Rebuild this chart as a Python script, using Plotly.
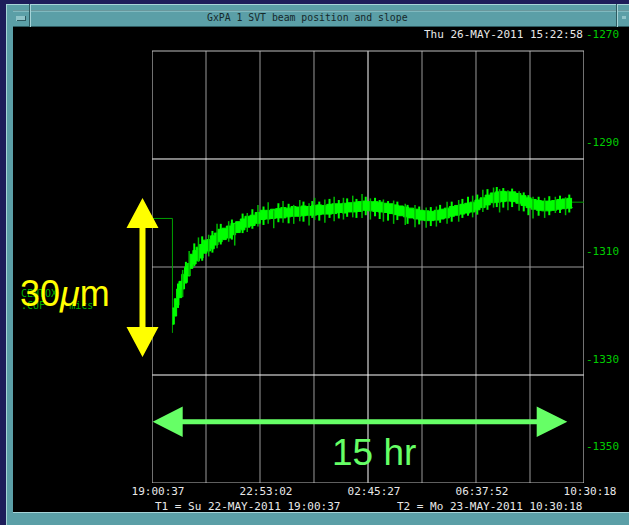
import plotly.graph_objects as go
import pandas as pd

# ---------------- data ----------------
T1 = "2011-05-22 19:00:37"
T2 = "2011-05-23 10:30:18"
title_text = "GxPA 1 SVT beam position and slope"
now_text = "Thu 26-MAY-2011 15:22:58"
t1_label = "T1 = Su 22-MAY-2011 19:00:37"
t2_label = "T2 = Mo 23-MAY-2011 10:30:18"
x_tick_labels = ["19:00:37", "22:53:02", "02:45:27", "06:37:52", "10:30:18"]
y_tick_labels = ["-1270", "-1290", "-1310", "-1330", "-1350"]
y_tick_values = [-1270, -1290, -1310, -1330, -1345.95]

# minutes after T1, with the upper / lower edge of the dense signal band
minutes = [44, 48, 53, 58, 64, 70, 76, 82, 88, 95, 102, 110, 118, 126, 134, 142, 151, 160,
           170, 180, 190, 200, 211, 222, 233, 244, 255, 266, 277, 288, 299, 310, 321, 332,
           343, 354, 365, 376, 387, 398, 409, 420, 431, 442, 453, 464, 475, 486, 497, 508,
           519, 530, 541, 552, 563, 574, 585, 596, 607, 618, 629, 640, 651, 662, 673, 684,
           695, 706, 717, 728, 739, 750, 761, 772, 783, 794, 805, 816, 827, 838, 849, 860,
           871, 882, 893, 904]
band_hi = [-1320.5, -1318.8, -1317.0, -1315.6, -1314.3, -1313.0, -1312.3, -1310.6, -1309.9,
           -1309.3, -1308.8, -1308.0, -1307.9, -1307.2, -1306.7, -1306.0, -1305.8, -1305.4,
           -1304.9, -1304.6, -1304.1, -1303.6, -1303.4, -1302.9, -1302.5, -1302.5, -1302.3,
           -1302.2, -1302.0, -1302.1, -1301.8, -1301.9, -1301.7, -1301.8, -1301.6, -1301.5,
           -1301.6, -1301.4, -1301.3, -1301.3, -1301.2, -1301.1, -1301.0, -1300.9, -1300.8,
           -1300.9, -1300.9, -1301.0, -1301.2, -1301.3, -1301.5, -1301.7, -1301.9, -1302.1,
           -1302.3, -1302.5, -1302.6, -1302.7, -1302.5, -1302.3, -1302.1, -1301.8, -1301.6,
           -1301.4, -1301.2, -1301.0, -1300.6, -1300.2, -1299.7, -1299.3, -1299.1, -1299.0,
           -1299.1, -1299.1, -1299.4, -1299.8, -1300.2, -1300.5, -1300.7, -1300.8, -1300.8,
           -1300.7, -1300.5, -1300.4, -1300.3, -1300.3]
band_lo = [-1323.5, -1322.0, -1320.0, -1318.6, -1317.0, -1315.8, -1314.6, -1313.2, -1312.4,
           -1311.8, -1311.3, -1310.4, -1310.0, -1309.6, -1308.9, -1308.3, -1307.9, -1307.6,
           -1307.0, -1306.6, -1306.1, -1305.6, -1305.3, -1304.9, -1304.2, -1304.1, -1304.0,
           -1303.9, -1303.9, -1303.7, -1303.6, -1303.6, -1303.5, -1303.4, -1303.4, -1303.3,
           -1303.2, -1303.2, -1303.1, -1302.9, -1303.0, -1302.8, -1302.8, -1302.7, -1302.5,
           -1302.6, -1302.7, -1302.8, -1302.9, -1303.1, -1303.3, -1303.5, -1303.7, -1303.9,
           -1304.1, -1304.3, -1304.4, -1304.4, -1304.3, -1304.1, -1303.9, -1303.6, -1303.4,
           -1303.2, -1303.0, -1302.8, -1302.4, -1302.0, -1301.5, -1301.1, -1301.0, -1300.9,
           -1300.8, -1300.9, -1301.2, -1301.6, -1302.0, -1302.3, -1302.5, -1302.6, -1302.6,
           -1302.5, -1302.3, -1302.2, -1302.1, -1301.9]

# isolated dark spikes (minutes after T1, low and high value)
spike_min = [66, 80, 100, 122, 140, 165, 178, 205, 228, 250, 262, 282, 305, 318, 338, 350,
             372, 392, 412, 432, 452, 470, 498, 520, 545, 566, 590, 612, 635, 660, 690, 712,
             735, 748, 766, 790, 820, 845, 868, 890]
spike_lo = [-1318.5, -1314.5, -1312.0, -1311.0, -1309.5, -1308.3, -1309.0, -1306.5, -1305.5,
            -1305.0, -1305.8, -1304.8, -1305.0, -1304.5, -1305.3, -1304.3, -1304.8, -1304.5,
            -1304.2, -1303.8, -1303.9, -1304.2, -1304.6, -1305.0, -1305.2, -1305.6, -1305.7,
            -1305.5, -1305.0, -1304.6, -1303.8, -1302.8, -1302.0, -1302.9, -1302.5, -1302.6,
            -1304.0, -1303.9, -1303.0, -1303.4]
spike_hi = [-1313.5, -1310.0, -1307.5, -1307.0, -1305.0, -1304.5, -1305.0, -1303.0, -1301.5,
            -1301.0, -1302.5, -1300.8, -1301.5, -1300.6, -1301.2, -1300.2, -1300.5, -1300.0,
            -1300.2, -1299.8, -1299.5, -1300.3, -1300.5, -1300.7, -1301.3, -1301.5, -1302.0,
            -1301.8, -1300.9, -1300.6, -1299.8, -1298.7, -1298.3, -1298.6, -1298.8, -1299.0,
            -1300.0, -1300.2, -1300.0, -1300.1]

# bright short spikes
flick_min = [56, 73, 91, 108, 130, 148, 172, 195, 216, 240, 272, 294, 326, 345, 360, 382, 402,
             420, 440, 460, 480, 490, 508, 528, 550, 575, 600, 620, 645, 668, 680, 700, 722,
             742, 756, 775, 800, 810, 832, 855, 878, 898]
flick_lo = [-1320.5, -1316.0, -1312.8, -1311.8, -1310.3, -1308.8, -1307.9, -1306.7, -1305.9,
            -1305.2, -1304.7, -1304.9, -1304.6, -1303.9, -1304.4, -1303.9, -1304.0, -1303.7,
            -1303.9, -1303.4, -1303.6, -1304.1, -1304.4, -1304.3, -1305.0, -1305.1, -1305.4,
            -1304.8, -1304.6, -1303.9, -1303.5, -1303.3, -1302.4, -1301.9, -1302.0, -1301.9,
            -1302.7, -1303.4, -1303.5, -1303.4, -1303.0, -1302.9]
flick_hi = [-1316.0, -1312.0, -1308.6, -1307.3, -1306.3, -1305.0, -1304.2, -1303.1, -1302.3,
            -1301.8, -1301.2, -1301.3, -1300.9, -1300.8, -1300.9, -1300.4, -1300.6, -1300.3,
            -1300.4, -1300.0, -1300.2, -1300.6, -1300.8, -1300.9, -1301.5, -1301.8, -1301.9,
            -1301.5, -1300.9, -1300.4, -1300.0, -1299.6, -1298.6, -1298.2, -1298.4, -1298.5,
            -1299.2, -1299.7, -1300.0, -1299.9, -1299.8, -1299.6]

# held values before the first and after the last sample
pre_min = [0, 44, 44]
pre_val = [-1304.0, -1304.0, -1325.1]
post_min = [904, 929.7]
post_val = [-1301.0, -1301.0]

# ---------------- figure geometry ----------------
W, H = 629, 525
ML, MR, MT, MB = 152, 45, 30, 42
PW, PH = W - ML - MR, H - MT - MB
Y_RANGE = [-1352.77, -1269.26]
BOX_TOP = -1273.13

t0 = pd.Timestamp(T1)
t_end = pd.Timestamp(T2)


def tm(m):
    return (t0 + pd.Timedelta(minutes=m)).strftime("%Y-%m-%d %H:%M:%S.%f")


def fx(p):
    return (p - ML) / PW


def fy(p):
    return (H - MB - p) / PH


fig = go.Figure()

fig.add_trace(go.Scatter(x=[tm(m) for m in pre_min], y=pre_val, mode="lines",
                         line=dict(color="#00a000", width=1), hoverinfo="skip"))
fig.add_trace(go.Scatter(x=[tm(m) for m in minutes], y=band_hi, mode="lines",
                         line=dict(color="#00ff00", width=1, shape="hv"), hoverinfo="skip"))
fig.add_trace(go.Scatter(x=[tm(m) for m in minutes], y=band_lo, mode="lines",
                         line=dict(color="#00ff00", width=1, shape="hv"),
                         fill="tonexty", fillcolor="#00ff00", hoverinfo="skip"))


def spikes(ms, los, his, color, w):
    sx, sy = [], []
    for m, lo, hi in zip(ms, los, his):
        sx += [tm(m), tm(m), None]
        sy += [lo, hi, None]
    fig.add_trace(go.Scatter(x=sx, y=sy, mode="lines",
                             line=dict(color=color, width=w), hoverinfo="skip"))


spikes(spike_min, spike_lo, spike_hi, "#00b800", 1.5)
spikes(flick_min, flick_lo, flick_hi, "#00ff00", 2)
fig.add_trace(go.Scatter(x=[tm(m) for m in post_min], y=post_val, mode="lines",
                         line=dict(color="#00a000", width=1), hoverinfo="skip"))

shapes = []
TEAL = "#5b9fa7"
LIGHT = "#a6d4d8"
DARK = "#2d5a60"


def prect(x0, y0, x1, y1, color, layer="below"):
    shapes.append(dict(type="rect", xref="paper", yref="paper", x0=fx(x0), x1=fx(x1),
                       y0=fy(y1), y1=fy(y0), fillcolor=color, line=dict(width=0), layer=layer))


def pline(x0, y0, x1, y1, color, w=1, layer="below"):
    shapes.append(dict(type="line", xref="paper", yref="paper", x0=fx(x0), x1=fx(x1),
                       y0=fy(y0), y1=fy(y1), line=dict(color=color, width=w), layer=layer))


# window chrome
prect(6, 4, 629, 525, TEAL)
prect(13, 27, 629, 512, "#000000")
pline(6, 4.5, 629, 4.5, LIGHT)
pline(6.5, 4, 6.5, 525, LIGHT)
pline(13, 10.5, 629, 10.5, DARK)
pline(13, 26.5, 629, 26.5, DARK)
pline(13, 11, 629, 11, LIGHT)
pline(29.5, 4, 29.5, 27, DARK)
pline(30.5, 4, 30.5, 27, LIGHT)
pline(616.5, 4, 616.5, 27, DARK)
pline(617.5, 4, 617.5, 27, LIGHT)
prect(16, 16, 26, 21, "#8fc4c9")
pline(17, 20.5, 26, 20.5, DARK)
pline(25.5, 16, 25.5, 21, DARK)
prect(622, 16, 626, 19, "#8fc4c9")
pline(13, 512.5, 629, 512.5, LIGHT)

# grid
GRAY = "#9a9a9a"
total = t_end - t0
for k in range(1, 8):
    xv = (t0 + total * k / 8).strftime("%Y-%m-%d %H:%M:%S.%f")
    shapes.append(dict(type="line", xref="x", yref="y", x0=xv, x1=xv, y0=BOX_TOP, y1=Y_RANGE[0],
                       line=dict(color="#ffffff" if k == 4 else GRAY, width=1), layer="below"))
for k in range(1, 4):
    yv = BOX_TOP + (Y_RANGE[0] - BOX_TOP) * k / 4
    shapes.append(dict(type="line", xref="x", yref="y", x0=T1, x1=T2, y0=yv, y1=yv,
                       line=dict(color="#ffffff" if k != 2 else GRAY, width=1), layer="below"))
shapes.append(dict(type="rect", xref="x", yref="y", x0=T1, x1=T2, y0=Y_RANGE[0], y1=BOX_TOP,
                   line=dict(color="#bdbdbd", width=1.2), layer="below"))


def ppath(pts, color):
    d = "M " + " L ".join(f"{fx(a):.5f},{fy(b):.5f}" for a, b in pts) + " Z"
    shapes.append(dict(type="path", xref="paper", yref="paper", path=d, fillcolor=color,
                       line=dict(width=0), layer="above"))


# yellow vertical double arrow
ppath([(142.5, 198), (158.5, 228), (145.5, 228), (145.5, 327), (158.5, 327), (142.5, 357),
       (126.5, 327), (139.5, 327), (139.5, 228), (126.5, 228)], "#ffff00")
# green horizontal double arrow
ppath([(152.7, 421.8), (182.7, 406.5), (182.7, 419.3), (536.7, 419.3), (536.7, 406.5),
       (567.3, 421.8), (536.7, 437), (536.7, 424.3), (182.7, 424.3), (182.7, 437)], "#66ff66")

MONO = "DejaVu Sans Mono"
SANS = "Liberation Sans"
ann = []


def text(x, y, s, size, color, font=MONO, xa="left", ya="middle"):
    ann.append(dict(text=s, x=fx(x), y=fy(y), xref="paper", yref="paper", showarrow=False,
                    xanchor=xa, yanchor=ya, font=dict(family=font, size=size, color=color)))


text(307, 17.5, title_text, 9.8, "#15282a", xa="center")
text(585, 34, now_text, 11, "#e8e8e8", xa="right")
text(152.5, 506, t1_label, 11, "#e8e8e8")
text(394.5, 506, t2_label, 11, "#e8e8e8")
text(19, 293, "CENTOX", 10, "#00b000")
text(19, 305, ".CUF\u00a0\u00a0\u00a0\u00a0mics", 10, "#00b000")
text(64.5, 293, "30<i>μ</i>m", 36, "#ffff00", font=SANS, xa="center")
text(373.5, 452, "15 hr", 37, "#66ff66", font=SANS, xa="center")

tickvals_x = [(t0 + total * k / 4).strftime("%Y-%m-%d %H:%M:%S.%f") for k in range(5)]

fig.update_layout(
    width=W, height=H,
    margin=dict(l=ML, r=MR, t=MT, b=MB, pad=0, autoexpand=False),
    paper_bgcolor="#1d1d5a", plot_bgcolor="rgba(0,0,0,0)",
    showlegend=False, hovermode=False,
    shapes=shapes, annotations=ann,
    xaxis=dict(type="date", range=[T1, T2], showgrid=False, zeroline=False, showline=False,
               tickmode="array", tickvals=tickvals_x, ticktext=x_tick_labels, ticks="",
               ticklabelshift=6, ticklabelstandoff=0,
               tickfont=dict(family=MONO, size=11, color="#e8e8e8")),
    yaxis=dict(range=Y_RANGE, side="right", showgrid=False, zeroline=False, showline=False,
               tickmode="array", tickvals=y_tick_values, ticktext=y_tick_labels, ticks="",
               ticklabelstandoff=1,
               tickfont=dict(family=MONO, size=11, color="#00cc00")),
)

fig.write_html("out.html", config={"displayModeBar": False})
